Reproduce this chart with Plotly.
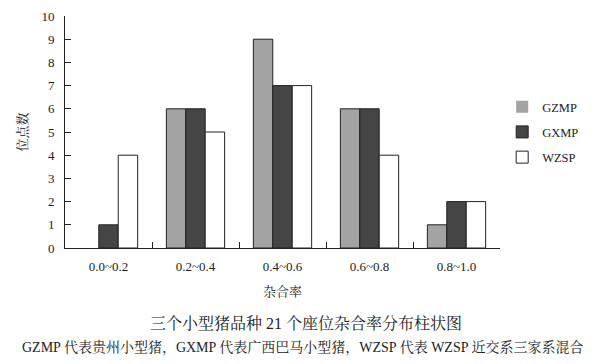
import plotly.graph_objects as go

categories = ["0.0~0.2", "0.2~0.4", "0.4~0.6", "0.6~0.8", "0.8~1.0"]
gzmp = [0, 6, 9, 6, 1]
gxmp = [1, 6, 7, 6, 2]
wzsp = [4, 5, 7, 4, 2]
series_names = ["GZMP", "GXMP", "WZSP"]
y_ticks = list(range(0, 11))

FONT = "Liberation Serif, Noto Serif CJK SC, Noto Sans CJK SC, serif"
colors = ["#a3a3a3", "#454545", "#ffffff"]

fig = go.Figure()
for i, (name, vals) in enumerate(zip(series_names, [gzmp, gxmp, wzsp])):
    fig.add_trace(go.Bar(
        x=categories, y=vals, name=name, legendgroup=name,
        marker=dict(color=colors[i],
                    line=dict(color="#222222",
                              width=[0 if v == 0 else 1 for v in vals])),
    ))

fig.update_layout(
    width=592, height=356,
    margin=dict(l=57, r=100, t=8, b=116, autoexpand=False),
    paper_bgcolor="white", plot_bgcolor="white",
    barmode="group", bargap=0.33, bargroupgap=0,
    font=dict(family=FONT, size=12, color="#222222"),
    showlegend=True,
    legend=dict(x=1.005, y=(248-132)/232, xanchor="left", yanchor="middle",
                font=dict(family=FONT, size=12.5, color="#222222"), tracegroupgap=6,
                bgcolor="rgba(0,0,0,0)"),
    xaxis=dict(
        type="category", showline=True, linecolor="#222222", linewidth=1,
        ticks="inside", ticklen=6, tickcolor="#222222", tickson="boundaries",
        showgrid=False, tickfont=dict(family=FONT, size=13), automargin=False,
        ticklabelstandoff=6,
        title=dict(text="杂合率", font=dict(family=FONT, size=13), standoff=14),
    ),
    yaxis=dict(
        range=[0, 10], tickvals=y_ticks, showline=True, linecolor="#222222",
        linewidth=1, ticks="inside", ticklen=6, tickcolor="#222222",
        showgrid=False, zeroline=False, tickfont=dict(family=FONT, size=13), automargin=False,
        ticklabelstandoff=7,
        title=dict(text="位点数", font=dict(family=FONT, size=13), standoff=10),
    ),
)

fig.add_annotation(text="三个小型猪品种 21 个座位杂合率分布柱状图",
                   xref="paper", yref="paper", x=(306-65)/435, y=-(323-248)/232,
                   xanchor="center", yanchor="middle", showarrow=False,
                   font=dict(family=FONT, size=16))
fig.add_annotation(text="GZMP 代表贵州小型猪，GXMP 代表广西巴马小型猪，WZSP 代表 WZSP 近交系三家系混合",
                   xref="paper", yref="paper", x=(302-65)/435, y=-(347-248)/232,
                   xanchor="center", yanchor="middle", showarrow=False,
                   font=dict(family=FONT, size=14))

fig.write_html("out.html")
